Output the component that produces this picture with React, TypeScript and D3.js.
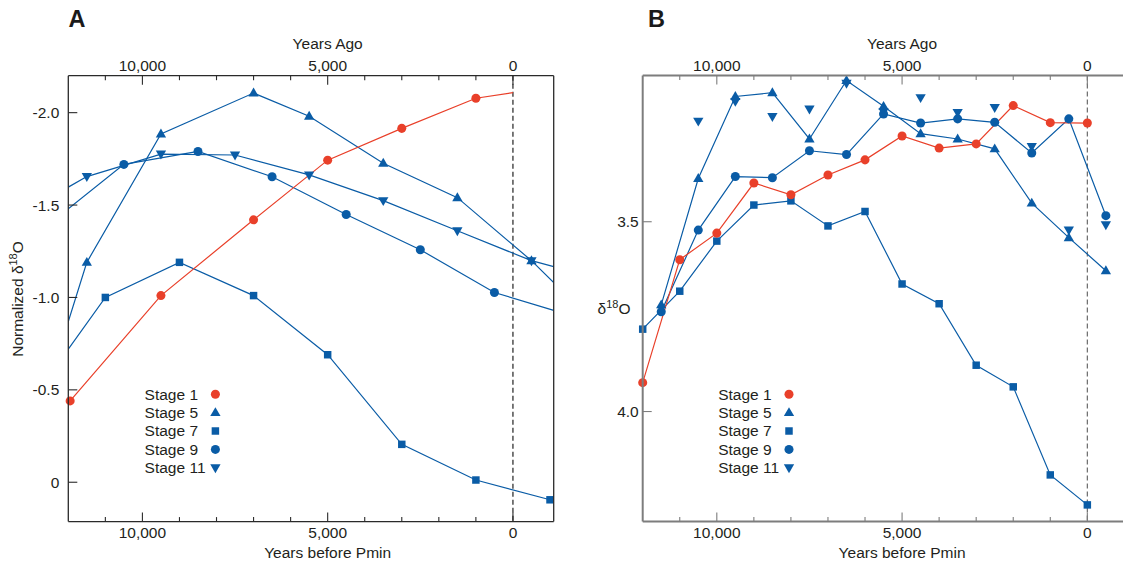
import React from 'react';
import * as d3 from 'd3';

const BLUE = '#0a5ca6';
const RED = '#e9402a';
const FONT = '"Liberation Sans", Arial, Helvetica, sans-serif';

// ---------- Panel A (normalized δ18O) ----------
const aS1Years = [11950, 9500, 7000, 5000, 3000, 1000];
const aS1Values = [-0.44, -1.01, -1.42, -1.743, -1.915, -2.078];
const aS1TailYears = [0];
const aS1TailValues = [-2.108];

const aS5Years = [11500, 9500, 7000, 5500, 3500, 1500, -500];
const aS5Values = [-1.19, -1.885, -2.106, -1.981, -1.726, -1.54, -1.199];
const aS5LeadYears = [12000];
const aS5LeadValues = [-0.87];
const aS5TailYears = [-1100];
const aS5TailValues = [-1.08];

const aS7Years = [11000, 9000, 7000, 5000, 3000, 1000, -1000];
const aS7Values = [-1.0, -1.19, -1.01, -0.69, -0.205, -0.012, 0.095];
const aS7LeadYears = [12000];
const aS7LeadValues = [-0.72];

const aS9Years = [10500, 8500, 6500, 4500, 2500, 500];
const aS9Values = [-1.72, -1.79, -1.653, -1.449, -1.258, -1.027];
const aS9LeadYears = [12000];
const aS9LeadValues = [-1.48];
const aS9TailYears = [-1100];
const aS9TailValues = [-0.93];

const aS11Years = [11500, 9500, 7500, 5500, 3500, 1500, -500];
const aS11Values = [-1.654, -1.776, -1.771, -1.663, -1.524, -1.361, -1.199];
const aS11LeadYears = [12000];
const aS11LeadValues = [-1.597];
const aS11TailYears = [-1100];
const aS11TailValues = [-1.167];

// ---------- Panel B (δ18O) ----------
const bS1Years = [12000, 11000, 10000, 9000, 8000, 7000, 6000, 5000, 4000, 3000, 2000, 1000, 0];
const bS1Values = [3.924, 3.6, 3.53, 3.398, 3.429, 3.377, 3.337, 3.274, 3.306, 3.295, 3.194, 3.239, 3.24];

const bS5Years = [11500, 10500, 9500, 8500, 7500, 6500, 5500, 4500, 3500, 2500, 1500, 500, -500];
const bS5Values = [3.719, 3.386, 3.17, 3.16, 3.282, 3.128, 3.196, 3.268, 3.282, 3.308, 3.451, 3.542, 3.629];

const bS7Years = [12000, 11000, 10000, 9000, 8000, 7000, 6000, 5000, 4000, 3000, 2000, 1000, 0];
const bS7Values = [3.783, 3.683, 3.551, 3.456, 3.445, 3.511, 3.473, 3.664, 3.716, 3.878, 3.935, 4.167, 4.246];

const bS9Years = [11500, 10500, 9500, 8500, 7500, 6500, 5500, 4500, 3500, 2500, 1500, 500, -500];
const bS9Values = [3.737, 3.522, 3.381, 3.384, 3.313, 3.323, 3.216, 3.24, 3.229, 3.238, 3.319, 3.229, 3.484];

const bS11Years = [10500, 9500, 8500, 7500, 6500, 5500, 4500, 3500, 2500, 1500, 500, -500];
const bS11Values = [3.235, 3.183, 3.223, 3.203, 3.135, 3.21, 3.173, 3.212, 3.199, 3.302, 3.522, 3.508];

// ---------- ticks / labels ----------
const xTickYears = [11000, 10000, 9000, 8000, 7000, 6000, 5000, 4000, 3000, 2000, 1000, 0];
const xLabelYears = [10000, 5000, 0];
const aYTicks = [-2.0, -1.5, -1.0, -0.5, 0];
const aYTickLabels = ['-2.0', '-1.5', '-1.0', '-0.5', '0'];
const bYTicks = [3.5, 4.0];
const bYTickLabels = ['3.5', '4.0'];
const legendLabels = ['Stage 1', 'Stage 5', 'Stage 7', 'Stage 9', 'Stage 11'];
const legendColors = [RED, BLUE, BLUE, BLUE, BLUE];
const legendShapes = ['circle', 'up', 'square', 'circle', 'down'];

type Shape = 'circle' | 'up' | 'square' | 'down';
type Series = {
  color: string;
  shape: Shape;
  years: number[];
  values: number[];
  leadYears?: number[];
  leadValues?: number[];
  tailYears?: number[];
  tailValues?: number[];
  line: boolean;
};

const seriesA: Series[] = [
  { color: BLUE, shape: 'up', years: aS5Years, values: aS5Values, leadYears: aS5LeadYears, leadValues: aS5LeadValues, tailYears: aS5TailYears, tailValues: aS5TailValues, line: true },
  { color: BLUE, shape: 'square', years: aS7Years, values: aS7Values, leadYears: aS7LeadYears, leadValues: aS7LeadValues, line: true },
  { color: BLUE, shape: 'circle', years: aS9Years, values: aS9Values, leadYears: aS9LeadYears, leadValues: aS9LeadValues, tailYears: aS9TailYears, tailValues: aS9TailValues, line: true },
  { color: BLUE, shape: 'down', years: aS11Years, values: aS11Values, leadYears: aS11LeadYears, leadValues: aS11LeadValues, tailYears: aS11TailYears, tailValues: aS11TailValues, line: true },
  { color: RED, shape: 'circle', years: aS1Years, values: aS1Values, tailYears: aS1TailYears, tailValues: aS1TailValues, line: true },
];

const seriesB: Series[] = [
  { color: BLUE, shape: 'down', years: bS11Years, values: bS11Values, line: false },
  { color: BLUE, shape: 'up', years: bS5Years, values: bS5Values, line: true },
  { color: BLUE, shape: 'square', years: bS7Years, values: bS7Values, line: true },
  { color: BLUE, shape: 'circle', years: bS9Years, values: bS9Values, line: true },
  { color: RED, shape: 'circle', years: bS1Years, values: bS1Values, line: true },
];

const symCircle = d3.symbol().type(d3.symbolCircle).size(64)() as string;
const symTri = d3.symbol().type(d3.symbolTriangle).size(46)() as string;
const symSquare = d3.symbol().type(d3.symbolSquare).size(56)() as string;

function Marker({ shape, x, y, color }: { shape: string; x: number; y: number; color: string }) {
  if (shape === 'circle') return <path d={symCircle} transform={`translate(${x},${y})`} fill={color} />;
  if (shape === 'square') return <path d={symSquare} transform={`translate(${x},${y})`} fill={color} />;
  if (shape === 'up') return <path d={symTri} transform={`translate(${x},${y + 0.5})`} fill={color} />;
  return <path d={symTri} transform={`translate(${x},${y - 0.5}) rotate(180)`} fill={color} />;
}

type PanelProps = {
  id: string;
  letter: string;
  left: number;
  right: number;
  top: number;
  bottom: number;
  xDomain: [number, number];
  yDomain: [number, number];
  visibleRight: number;
  series: Series[];
  yTicks: number[];
  yTickLabels: string[];
  yLabelGap: number;
  axisColor: string;
  axisWidth: number;
  boxRight: boolean;
  dashColor: string;
  legendX: number;
  legendMarkerX: number;
  yLabel: React.ReactNode;
};

function Panel(p: PanelProps) {
  const x = d3.scaleLinear().domain(p.xDomain).range([p.left, p.right]);
  const y = d3.scaleLinear().domain(p.yDomain).range([p.top, p.bottom]);
  const line = d3
    .line<[number, number]>()
    .x((d) => x(d[0]))
    .y((d) => y(d[1]));
  const fmt = d3.format(',');
  const textColor = '#231f20';
  const clipRight = Math.min(p.right, p.visibleRight);
  return (
    <g>
      <defs>
        <clipPath id={`clip-${p.id}`}>
          <rect x={p.left} y={p.top} width={clipRight - p.left} height={p.bottom - p.top} />
        </clipPath>
      </defs>
      <text x={p.letter === 'A' ? 68.5 : 648} y={26.5} fontFamily={FONT} fontWeight="bold" fontSize={23.5} fill="#1a1a1a">
        {p.letter}
      </text>
      {/* dashed zero line */}
      <line x1={x(0)} x2={x(0)} y1={p.top} y2={p.bottom} stroke={p.dashColor} strokeWidth={1.2} strokeDasharray="5,3" />
      {/* lines */}
      <g clipPath={`url(#clip-${p.id})`}>
        {p.series
          .filter((s) => s.line)
          .map((s, i) => {
            const pts: [number, number][] = [];
            (s.leadYears || []).forEach((yr, j) => pts.push([yr, (s.leadValues as number[])[j]]));
            s.years.forEach((yr, j) => pts.push([yr, s.values[j]]));
            (s.tailYears || []).forEach((yr, j) => pts.push([yr, (s.tailValues as number[])[j]]));
            return <path key={i} d={line(pts) as string} fill="none" stroke={s.color} strokeWidth={1.2} />;
          })}
      </g>
      {/* markers */}
      {p.series.map((s, i) => (
        <g key={i}>
          {s.years.map((yr, j) => (
            <Marker key={j} shape={s.shape} x={x(yr)} y={y(s.values[j])} color={s.color} />
          ))}
        </g>
      ))}
      {/* axes frame */}
      <line x1={p.left} x2={p.left} y1={p.top} y2={p.bottom} stroke={p.axisColor} strokeWidth={p.axisWidth} />
      <line x1={p.left} x2={p.visibleRight} y1={p.top} y2={p.top} stroke={p.axisColor} strokeWidth={p.axisWidth} />
      <line x1={p.left} x2={p.visibleRight} y1={p.bottom} y2={p.bottom} stroke={p.axisColor} strokeWidth={p.axisWidth} />
      {p.boxRight && <line x1={p.right} x2={p.right} y1={p.top} y2={p.bottom} stroke={p.axisColor} strokeWidth={p.axisWidth} />}
      {/* x ticks */}
      {xTickYears.map((yr) => {
        const major = xLabelYears.includes(yr);
        const len = major ? 9 : 4.5;
        return (
          <g key={yr}>
            <line x1={x(yr)} x2={x(yr)} y1={p.top} y2={p.top + len} stroke={p.axisColor} strokeWidth={1.1} />
            <line x1={x(yr)} x2={x(yr)} y1={p.bottom} y2={p.bottom - len} stroke={p.axisColor} strokeWidth={1.1} />
          </g>
        );
      })}
      {xLabelYears.map((yr) => (
        <g key={yr} fontFamily={FONT} fontSize={15.5} fill={textColor} textAnchor="middle">
          <text x={x(yr)} y={71}>{fmt(yr)}</text>
          <text x={x(yr)} y={538}>{fmt(yr)}</text>
        </g>
      ))}
      <text x={x(5000)} y={48.5} fontFamily={FONT} fontSize={15.5} fill={textColor} textAnchor="middle">
        Years Ago
      </text>
      <text x={x(5000)} y={558} fontFamily={FONT} fontSize={15.5} fill={textColor} textAnchor="middle">
        Years before Pmin
      </text>
      {/* y ticks */}
      {p.yTicks.map((v, i) => (
        <g key={v}>
          <line x1={p.left} x2={p.left + 9} y1={y(v)} y2={y(v)} stroke={p.axisColor} strokeWidth={1.1} />
          <text
            x={p.left - p.yLabelGap}
            y={y(v) + 5.5}
            fontFamily={FONT}
            fontSize={15.5}
            fill={textColor}
            textAnchor="end"
          >
            {p.yTickLabels[i]}
          </text>
        </g>
      ))}
      {p.yLabel}
      {/* legend */}
      {legendLabels.map((lab, i) => (
        <g key={lab}>
          <text x={p.legendX} y={399.5 + i * 18.4} fontFamily={FONT} fontSize={15.5} fill={textColor}>
            {lab}
          </text>
          <Marker shape={legendShapes[i]} x={p.legendMarkerX} y={394.2 + i * 18.4} color={legendColors[i]} />
        </g>
      ))}
    </g>
  );
}

export default function App() {
  return (
    <div>
      <style>{'body{margin:0;background:#fff}'}</style>
      <svg width={1123} height={568} style={{ display: 'block' }}>
        <rect width={1123} height={568} fill="#fff" />
        <Panel
          id="a"
          letter="A"
          left={68.3}
          right={553.7}
          top={75.7}
          bottom={521.6}
          xDomain={[12000, -1100]}
          yDomain={[-2.2, 0.213]}
          visibleRight={553.7}
          series={seriesA}
          yTicks={aYTicks}
          yTickLabels={aYTickLabels}
          yLabelGap={9}
          axisColor="#2a2a2a"
          axisWidth={1.3}
          boxRight={true}
          dashColor="#222"
          legendX={144.6}
          legendMarkerX={215.4}
          yLabel={
            <text transform="translate(23,299) rotate(-90)" fontFamily={FONT} fontSize={15.5} fill="#231f20" textAnchor="middle">
              Normalized δ<tspan fontSize={11} dy={-6}>18</tspan>
              <tspan dy={6}>O</tspan>
            </text>
          }
        />
        <Panel
          id="b"
          letter="B"
          left={642.7}
          right={1128.1}
          top={75.6}
          bottom={521.6}
          xDomain={[12000, -1100]}
          yDomain={[3.115, 4.29]}
          visibleRight={1123}
          series={seriesB}
          yTicks={bYTicks}
          yTickLabels={bYTickLabels}
          yLabelGap={4}
          axisColor="#7d7d7d"
          axisWidth={2}
          boxRight={false}
          dashColor="#6a6a6a"
          legendX={718.2}
          legendMarkerX={789}
          yLabel={
            <text x={597.5} y={314} fontFamily={FONT} fontSize={15.5} fill="#231f20">
              δ<tspan fontSize={11} dy={-6}>18</tspan>
              <tspan dy={6}>O</tspan>
            </text>
          }
        />
      </svg>
    </div>
  );
}
